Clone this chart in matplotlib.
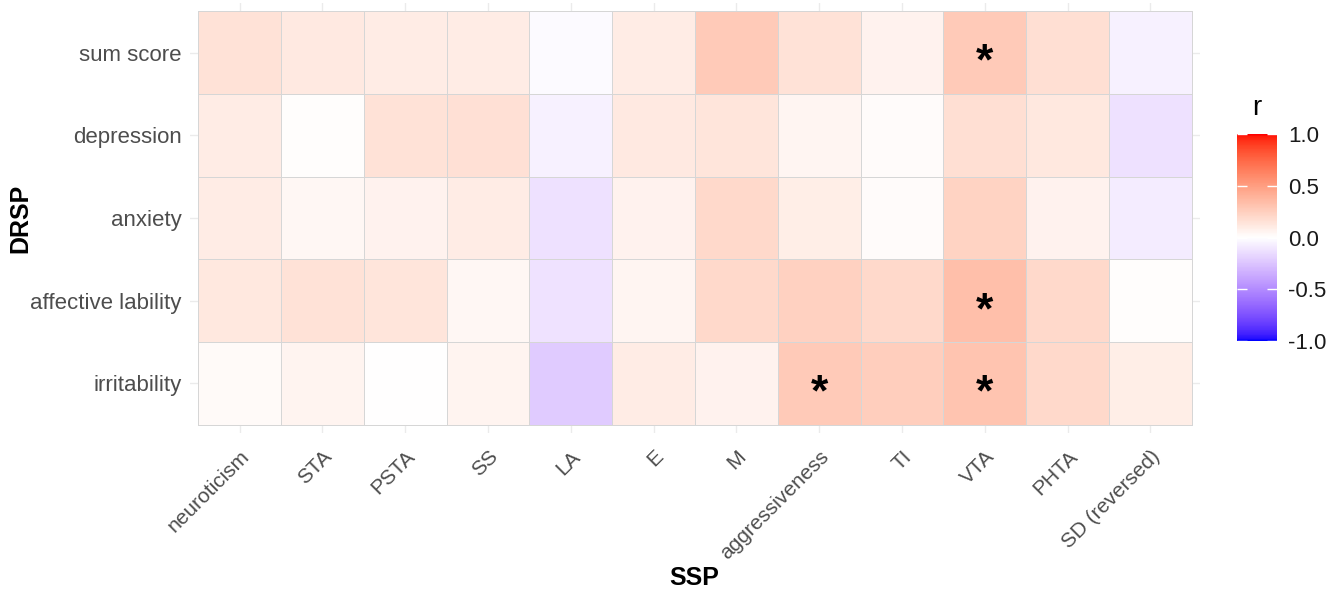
import numpy as np
import matplotlib
matplotlib.use('Agg')
import matplotlib.pyplot as plt
from matplotlib.colors import ListedColormap, Normalize

# correlation data (rows = DRSP, cols = SSP)
ssp_labels = ['neuroticism', 'STA', 'PSTA', 'SS', 'LA', 'E', 'M',
              'aggressiveness', 'TI', 'VTA', 'PHTA', 'SD (reversed)']
drsp_labels = ['sum score', 'depression', 'anxiety', 'affective lability', 'irritability']

r_sum_score = [0.15, 0.11, 0.10, 0.10, -0.02, 0.10, 0.28, 0.15, 0.07, 0.28, 0.17, -0.06]
r_depression = [0.10, 0.01, 0.15, 0.16, -0.06, 0.11, 0.14, 0.05, 0.02, 0.17, 0.12, -0.13]
r_anxiety = [0.10, 0.04, 0.07, 0.10, -0.13, 0.07, 0.20, 0.09, 0.02, 0.23, 0.07, -0.08]
r_affective = [0.12, 0.15, 0.14, 0.04, -0.12, 0.05, 0.20, 0.24, 0.20, 0.33, 0.20, 0.01]
r_irritability = [0.03, 0.06, 0.00, 0.06, -0.22, 0.10, 0.07, 0.28, 0.25, 0.31, 0.20, 0.09]

# significant cells (row label, col label)
signif = [('sum score', 'VTA'), ('affective lability', 'VTA'),
          ('irritability', 'aggressiveness'), ('irritability', 'VTA')]


def srgb_to_lab(rgb):
    c = np.asarray(rgb, dtype=float)
    lin = np.where(c <= 0.04045, c / 12.92, ((c + 0.055) / 1.055) ** 2.4)
    m = np.array([[0.4124, 0.3576, 0.1805],
                  [0.2126, 0.7152, 0.0722],
                  [0.0193, 0.1192, 0.9505]])
    xyz = m @ lin / np.array([0.95047, 1.0, 1.08883])
    f = np.where(xyz > 0.008856, np.cbrt(xyz), 7.787 * xyz + 16 / 116)
    return np.array([116 * f[1] - 16, 500 * (f[0] - f[1]), 200 * (f[1] - f[2])])


def lab_to_srgb(lab):
    L, a, b = lab
    fy = (L + 16) / 116
    fx = fy + a / 500
    fz = fy - b / 200
    f = np.array([fx, fy, fz])
    xyz = np.where(f ** 3 > 0.008856, f ** 3, (f - 16 / 116) / 7.787)
    xyz = xyz * np.array([0.95047, 1.0, 1.08883])
    m = np.array([[3.2406, -1.5372, -0.4986],
                  [-0.9689, 1.8758, 0.0415],
                  [0.0557, -0.2040, 1.0570]])
    lin = np.clip(m @ xyz, 0, 1)
    c = np.where(lin <= 0.0031308, 12.92 * lin, 1.055 * lin ** (1 / 2.4) - 0.055)
    return np.clip(c, 0, 1)


# blue - white - red gradient interpolated in Lab (like ggplot2 gradient2)
lab_blue = srgb_to_lab([0, 0, 1])
lab_white = srgb_to_lab([1, 1, 1])
lab_red = srgb_to_lab([1, 0, 0])
colors = []
for t in np.linspace(-1, 1, 256):
    if t < 0:
        lab = lab_white + (lab_blue - lab_white) * (-t)
    else:
        lab = lab_white + (lab_red - lab_white) * t
    colors.append(lab_to_srgb(lab))
cmap = ListedColormap(colors)
norm = Normalize(-1, 1)

data = np.array([r_sum_score, r_depression, r_anxiety, r_affective, r_irritability])
n_rows, n_cols = data.shape

plt.rcParams['font.family'] = ['Liberation Sans', 'DejaVu Sans']

fig = plt.figure(figsize=(13.41, 5.92), dpi=100)
ax = fig.add_axes([190 / 1341, 1 - 433 / 592, 1010 / 1341, 430 / 592])

# grid lines behind tiles
for i in range(n_cols):
    ax.axvline(i + 0.5, color='#ebebeb', lw=1.0, zorder=0)
for j in range(n_rows):
    ax.axhline(j + 0.5, color='#ebebeb', lw=1.0, zorder=0)

mesh = ax.pcolormesh(np.arange(n_cols + 1), np.arange(n_rows + 1), data,
                     cmap=cmap, norm=norm, edgecolors='#d6d6d6', linewidth=0.7, zorder=1)

for row_name, col_name in signif:
    yi = drsp_labels.index(row_name)
    xi = ssp_labels.index(col_name)
    ax.text(xi + 0.5, yi + 0.5 + 0.13, '*', ha='center', va='center',
            fontsize=32, fontweight='bold', color='black', zorder=3)

ax.set_xlim(-0.1, n_cols + 0.1)
ax.set_ylim(n_rows + 0.1, -0.1)
ax.set_xticks(np.arange(n_cols) + 0.5)
ax.set_xticklabels(ssp_labels, rotation=45, ha='right', rotation_mode='anchor',
                   fontsize=15, color='#4d4d4d')
ax.set_yticks(np.arange(n_rows) + 0.5)
ax.set_yticklabels(drsp_labels, fontsize=16, color='#4d4d4d')
ax.tick_params(length=0, pad=6)
ax.tick_params(axis='x', pad=10)
for s in ax.spines.values():
    s.set_visible(False)

ax.set_xlabel('SSP', fontsize=18, fontweight='bold')
ax.xaxis.set_label_coords(694 / 1341, 1 - 566 / 592, transform=fig.transFigure)
ax.set_ylabel('DRSP', fontsize=18, fontweight='bold')
ax.yaxis.set_label_coords(32 / 1341, 1 - 218 / 592, transform=fig.transFigure)

# colorbar
cax = fig.add_axes([1237 / 1341, 1 - 341 / 592, 40 / 1341, 207 / 592])
cb = fig.colorbar(mesh, cax=cax, ticks=[-1, -0.5, 0, 0.5, 1])
cb.outline.set_visible(False)
cb.ax.set_yticklabels(['-1.0', '-0.5', '0.0', '0.5', '1.0'])
cb.ax.yaxis.set_ticks_position('both')
cb.ax.tick_params(labelsize=16, labelcolor='#1a1a1a', color='white',
                  direction='in', length=7, width=1.0, labelright=True, labelleft=False, pad=8)
fig.text(1257 / 1341, 1 - 108 / 592, 'r', fontsize=20, ha='center', va='center')

fig.savefig('out.png', dpi=100)
